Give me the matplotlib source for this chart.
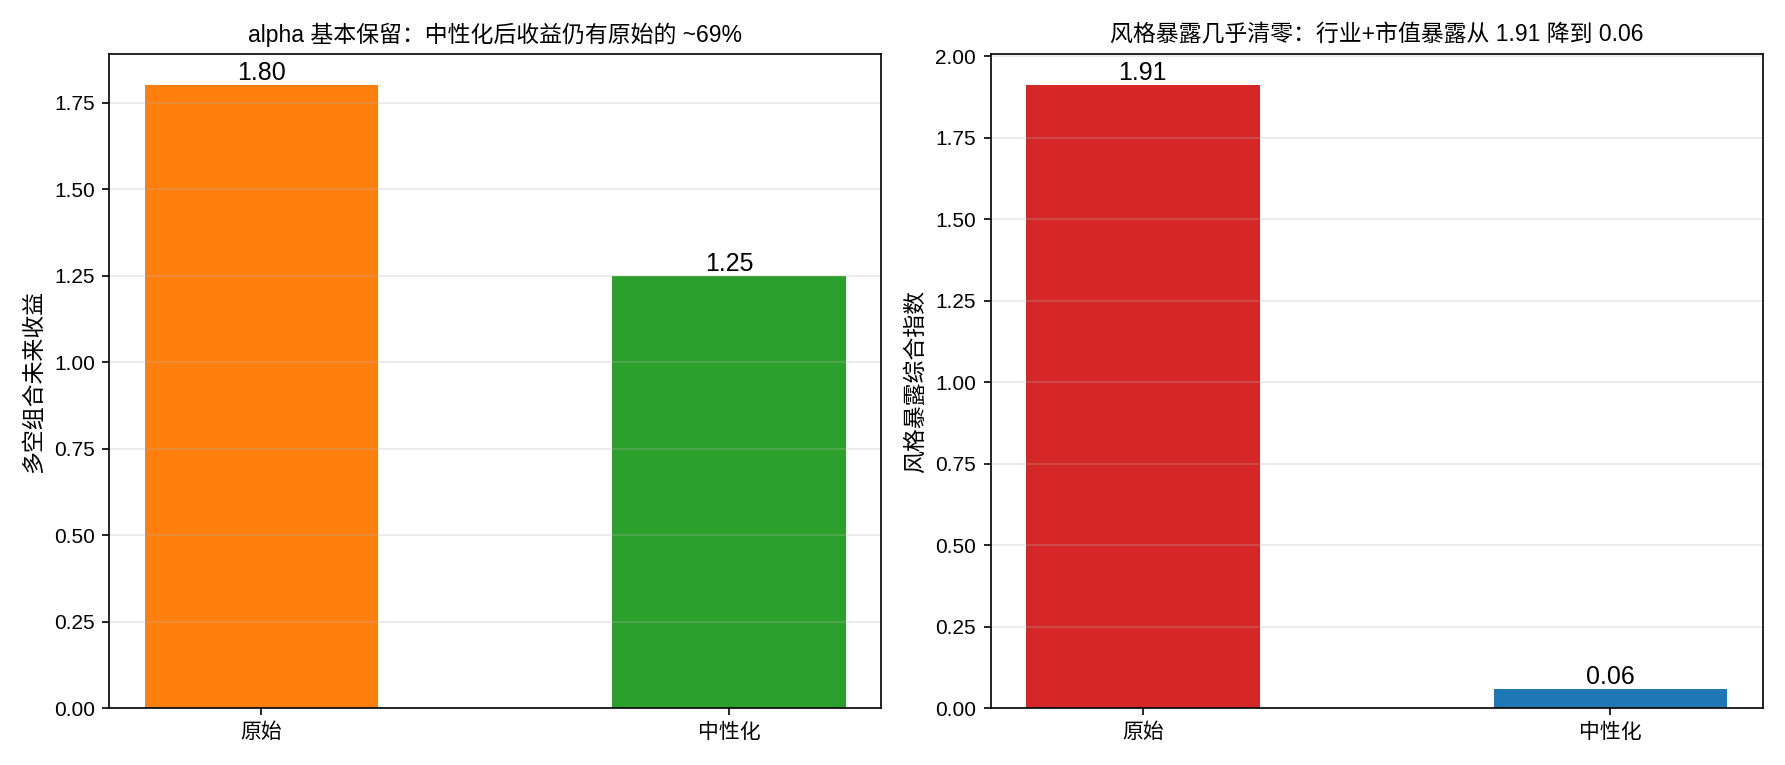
import matplotlib
matplotlib.use("Agg")
import matplotlib.pyplot as plt

plt.rcParams['font.family'] = ['Liberation Sans', 'Noto Sans CJK SC', 'DejaVu Sans']
plt.rcParams['axes.unicode_minus'] = False

categories = ["原始", "中性化"]
ls_return = [1.80, 1.25]
style_exposure = [1.91, 0.06]

fig, axes = plt.subplots(1, 2, figsize=(11.9, 5.1), dpi=150)

# left: long-short return
ax = axes[0]
bars = ax.bar(categories, ls_return, width=0.5, color=["#ff7f0e", "#2ca02c"])
for b, v in zip(bars, ls_return):
    ax.text(b.get_x() + b.get_width() / 2, v, f"{v:.2f}", ha="center", va="bottom", fontsize=12)
ax.set_ylabel("多空组合未来收益", fontsize=11)
ax.set_title("alpha 基本保留：中性化后收益仍有原始的 ~69%", fontsize=11)
ax.grid(axis="y", alpha=0.3)

# right: style exposure
ax = axes[1]
bars = ax.bar(categories, style_exposure, width=0.5, color=["#d62728", "#1f77b4"])
for b, v in zip(bars, style_exposure):
    ax.text(b.get_x() + b.get_width() / 2, v, f"{v:.2f}", ha="center", va="bottom", fontsize=12)
ax.set_ylabel("风格暴露综合指数", fontsize=11)
ax.set_title("风格暴露几乎清零：行业+市值暴露从 1.91 降到 0.06", fontsize=11)
ax.grid(axis="y", alpha=0.3)

plt.tight_layout()
plt.savefig("out.png")
